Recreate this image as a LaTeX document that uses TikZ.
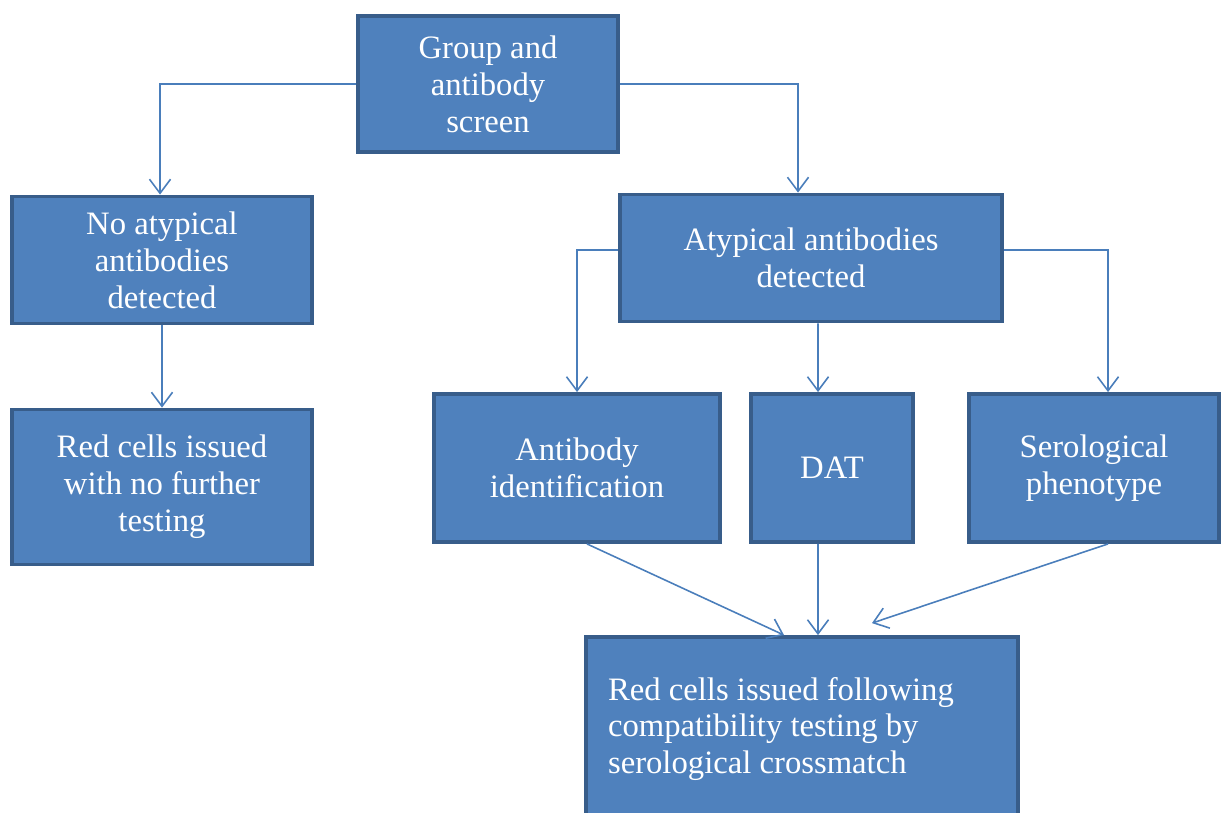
\documentclass[tikz,border=0pt]{standalone}
\usepackage{tikz}
\usepackage{xcolor}
\usepackage{fontspec}
\setmainfont{Liberation Serif}
\usetikzlibrary{shapes,arrows.meta,positioning,calc}
\definecolor{boxBlue}{HTML}{4F81BD}
\definecolor{boxEdge}{HTML}{385D8A}
\definecolor{lineBlue}{HTML}{4A7EBB}

\begin{document}
\begin{tikzpicture}[x=0.02cm,y=-0.02cm,
    stage/.style={draw=boxEdge,line width=2.2pt,fill=boxBlue,text=white,
        align=center,inner sep=2pt,font=\fontsize{18.6}{21}\selectfont},
    arr/.style={draw=lineBlue,line width=0.9pt,-{Straight Barb[length=8pt,width=12pt]}}]
    \useasboundingbox (0,0) rectangle (1229,812);

    \node[stage,minimum width=5.2cm,minimum height=2.72cm] (group) at (488,84) {Group and\\antibody\\screen};
    \node[stage,minimum width=6cm,minimum height=2.54cm] (noatyp) at (162,260) {No atypical\\antibodies\\detected};
    \node[stage,minimum width=6cm,minimum height=3.1cm] (redno) at (162,487) {Red cells issued\\with no further\\testing};
    \node[stage,minimum width=7.64cm,minimum height=2.54cm] (atyp) at (811,258) {Atypical antibodies\\detected};
    \node[stage,minimum width=5.72cm,minimum height=2.96cm] (abid) at (577,468) {Antibody\\identification};
    \node[stage,minimum width=3.24cm,minimum height=2.96cm] (dat) at (832,468) {DAT};
    \node[stage,minimum width=5cm,minimum height=2.96cm] (sero) at (1094,468) {Serological\\phenotype};
    \node[stage,minimum width=8.64cm,minimum height=3.68cm,align=flush left,inner xsep=0.44cm,
        text width=7.76cm] (final) at (802,729) {Red cells issued following\\compatibility testing by\\serological crossmatch};

    \draw[arr] (group.west) -| ([xshift=-0.04cm]noatyp.north);
    \draw[arr] (group.east) -| ([xshift=-0.26cm]atyp.north);
    \draw[arr] (noatyp) -- (redno);
    \draw[arr] ([yshift=0.16cm]atyp.west) -| (abid.north);
    \draw[arr] ([xshift=0.14cm]atyp.south) -- ([xshift=-0.28cm]dat.north);
    \draw[arr] ([yshift=0.16cm]atyp.east) -| ([xshift=0.28cm]sero.north);
    \draw[arr] ([xshift=0.2cm]abid.south) -- ([xshift=-0.36cm]final.north);
    \draw[arr] ([xshift=-0.28cm]dat.south) -- ([xshift=0.32cm]final.north);
    \draw[arr] ([xshift=0.28cm]sero.south) -- ([xshift=1.4cm,yshift=0.24cm]final.north);
\end{tikzpicture}
\end{document}
